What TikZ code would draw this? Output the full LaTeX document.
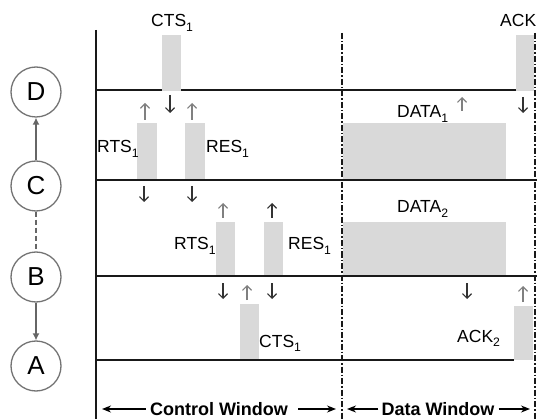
\documentclass[tikz,border=0pt]{standalone}
\usepackage{fontspec}
\setmainfont{Liberation Sans}
\usetikzlibrary{arrows.meta}
\newcommand{\lowsub}[1]{\raisebox{-0.25ex}{\textsubscript{#1}}}
\begin{document}
\begin{tikzpicture}[x=1pt,y=-1pt,
  lbl/.style={font=\fontsize{17.5}{20}\selectfont, inner sep=0pt, anchor=base west},
  winlbl/.style={font=\fontsize{18}{20}\selectfont\bfseries, inner sep=0pt, anchor=base},
  st/.style={draw=black!55, line width=1.3pt, circle, minimum size=50pt, inner sep=0pt, font=\fontsize{26}{30}\selectfont},
  conn/.style={draw=black!60, line width=1.3pt},
  pbox/.style={fill=black!15},
  axis/.style={line width=1.4pt, black!90},
  win/.style={line width=1.2pt, black!90, dash pattern=on 6pt off 2pt on 1.5pt off 2pt},
  sigup/.style={line width=1.2pt, black!50, -{Straight Barb[length=4.5pt,width=9pt]}},
  sigdn/.style={line width=1.2pt, black!80, -{Straight Barb[length=4.5pt,width=9pt]}},
  warr/.style={line width=1.4pt, black, -{Stealth[length=9pt,width=7pt]}}
]
\useasboundingbox (0,0) rectangle (537,419);

% states
\node[st] (D) at (36,92) {D};
\node[st] (C) at (36,186) {C};
\node[st] (B) at (36,277) {B};
\node[st] (A) at (36,366) {A};
\draw[conn,-{Latex[length=7pt,width=7pt]}] (C) -- (D);
\draw[conn,dash pattern=on 5pt off 3pt] (C) -- (B);
\draw[conn,-{Latex[length=7pt,width=7pt]}] (B) -- (A);

% boxes
\fill[pbox] (137,123) rectangle (157,180);
\fill[pbox] (185,123) rectangle (205,180);
\fill[pbox] (343,123) rectangle (506,180);
\fill[pbox] (216,222) rectangle (235,276);
\fill[pbox] (264,222) rectangle (283,276);
\fill[pbox] (343,222) rectangle (506,276);
\fill[pbox] (240,304) rectangle (259,360);
\fill[pbox] (514,306) rectangle (533,360);
\fill[pbox] (162,35) rectangle (181,91);
\fill[pbox] (516,35) rectangle (534,91);

% axes and rows
\draw[axis] (96,30) -- (96,419);
\draw[axis] (96,90) -- (162,90);
\draw[axis] (181,90) -- (516,90);
\draw[axis] (96,180) -- (537,180);
\draw[axis] (96,276) -- (537,276);
\draw[axis] (96,360) -- (514,360);
\draw[win] (342,33) -- (342,419);
\draw[win] (535,33) -- (535,419);

% signal arrows row D-C
\draw[sigup] (145,120) -- (145,103);
\draw[sigdn] (170,95) -- (170,113);
\draw[sigup] (192,120) -- (192,103);
\draw[sigup] (462,111) -- (462,97);
\draw[sigdn] (523,97) -- (523,113);
% row C-B
\draw[sigdn] (144,186) -- (144,202);
\draw[sigdn] (192,186) -- (192,202);
\draw[sigup] (223,218) -- (223,203);
\draw[sigdn] (272,218) -- (272,203);
% row B-A
\draw[sigdn] (223,283) -- (223,299);
\draw[sigup] (247,300) -- (247,285);
\draw[sigdn] (272,283) -- (272,299);
\draw[sigdn] (467,283) -- (467,299);
\draw[sigup] (523,302) -- (523,286);

% labels
\node[lbl] (cts0) at (151,27) {CTS\lowsub{1}};
\node[lbl] (ack0) at (500,27) {ACK};
\node[lbl] (rts1) at (97,153) {RTS\lowsub{1}};
\node[lbl] (res1) at (206,153) {RES\lowsub{1}};
\node[lbl] (data1) at (397,118) {DATA\lowsub{1}};
\node[lbl] (rts2) at (174,250) {RTS\lowsub{1}};
\node[lbl] (res2) at (288,250) {RES\lowsub{1}};
\node[lbl] (data2) at (397,213) {DATA\lowsub{2}};
\node[lbl] (cts2) at (259,347) {CTS\lowsub{1}};
\node[lbl] (ack2) at (457,342) {ACK\lowsub{2}};

% windows
\node[winlbl] (cw) at (219,415) {Control Window};
\node[winlbl] (dw) at (438,415) {Data Window};
\coordinate (cwL) at (102,409);
\coordinate (cwR) at (336,409);
\coordinate (dwL) at (347,409);
\coordinate (dwR) at (530,409);
\draw[warr] ([xshift=-4pt]cw.west |- cwL) -- (cwL);
\draw[warr] ([xshift=10pt]cw.east |- cwR) -- (cwR);
\draw[warr] ([xshift=-3pt]dw.west |- dwL) -- (dwL);
\draw[warr] ([xshift=4pt]dw.east |- dwR) -- (dwR);
\end{tikzpicture}
\end{document}
